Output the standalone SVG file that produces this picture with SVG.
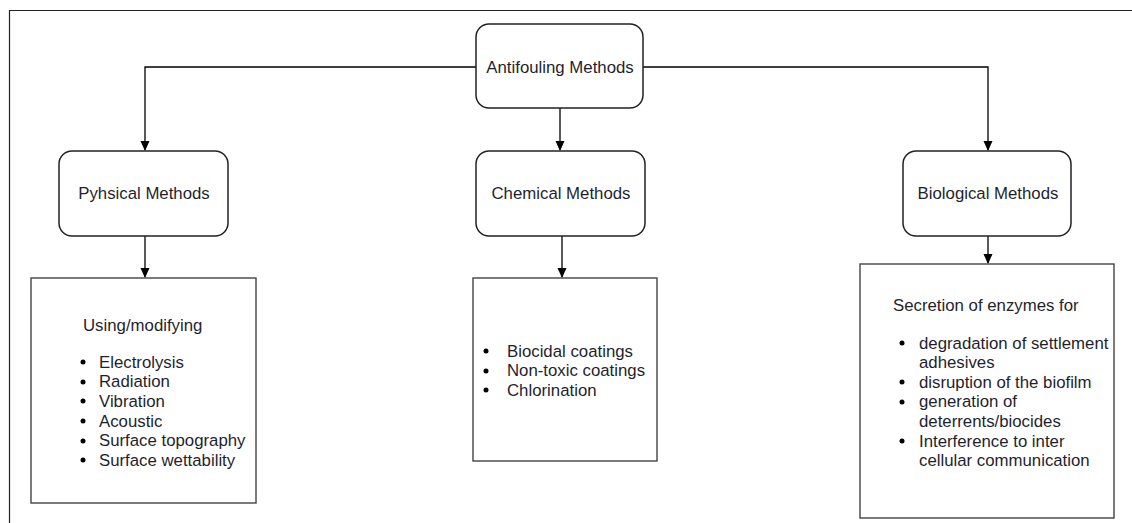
<svg xmlns="http://www.w3.org/2000/svg" width="1132" height="523" viewBox="0 0 1132 523">
<defs>
<style>
text{font-family:"Liberation Sans",Arial,sans-serif;font-size:16.8px;fill:#1f1f2e}
.mid{text-anchor:middle}
.node{fill:#fff;stroke:#222;stroke-width:1.5}
.box{fill:#fff;stroke:#444;stroke-width:1.4}
.conn{fill:none;stroke:#000;stroke-width:1.3}
.dot{fill:#000}
</style>
<marker id="arr" viewBox="0 0 10 10" refX="9" refY="5" markerWidth="10" markerHeight="10" markerUnits="userSpaceOnUse" orient="auto">
<path d="M0,0.5 L10,5 L0,9.5 Z" fill="#000"/>
</marker>
</defs>
<rect width="1132" height="523" fill="#fff"/>
<path d="M9.5,523 V10.5 H1132" fill="none" stroke="#222" stroke-width="1.2"/>
<g id="connectors">
<path class="conn" d="M476,67 H145 V150" marker-end="url(#arr)"/>
<path class="conn" d="M643,67 H988 V150" marker-end="url(#arr)"/>
<path class="conn" d="M560,108 V150" marker-end="url(#arr)"/>
<path class="conn" d="M145,236 V277" marker-end="url(#arr)"/>
<path class="conn" d="M562,236 V277" marker-end="url(#arr)"/>
<path class="conn" d="M988,236 V263" marker-end="url(#arr)"/>
</g>
<g id="root">
<rect class="node" x="476" y="24" width="167" height="84" rx="13"/>
<text class="mid" x="560" y="73">Antifouling Methods</text>
</g>
<g id="physical">
<rect class="node" x="59" y="151" width="169" height="85" rx="13"/>
<text class="mid" x="144" y="199">Pyhsical Methods</text>
</g>
<g id="chemical">
<rect class="node" x="476" y="151" width="169" height="85" rx="13"/>
<text class="mid" x="561" y="199">Chemical Methods</text>
</g>
<g id="biological">
<rect class="node" x="903" y="151" width="168" height="85" rx="13"/>
<text class="mid" x="988" y="199">Biological Methods</text>
</g>
<g id="physical-list">
<rect class="box" x="31" y="278" width="225" height="225"/>
<text x="83" y="331">Using/modifying</text>
<g class="dot">
<circle cx="83" cy="362" r="2.5"/><circle cx="83" cy="382" r="2.5"/><circle cx="83" cy="401" r="2.5"/>
<circle cx="83" cy="421" r="2.5"/><circle cx="83" cy="441" r="2.5"/><circle cx="83" cy="460" r="2.5"/>
</g>
<text x="99" y="367.5">Electrolysis</text>
<text x="99" y="387.2">Radiation</text>
<text x="99" y="406.9">Vibration</text>
<text x="99" y="426.6">Acoustic</text>
<text x="99" y="446.3">Surface topography</text>
<text x="99" y="466">Surface wettability</text>
</g>
<g id="chemical-list">
<rect class="box" x="473" y="278" width="184" height="183"/>
<g class="dot">
<circle cx="486" cy="351" r="2.5"/><circle cx="486" cy="371" r="2.5"/><circle cx="486" cy="390" r="2.5"/>
</g>
<text x="507" y="356.5">Biocidal coatings</text>
<text x="507" y="376.2">Non-toxic coatings</text>
<text x="507" y="395.9">Chlorination</text>
</g>
<g id="biological-list">
<rect class="box" x="860" y="264" width="254" height="254"/>
<text x="893" y="311">Secretion of enzymes for</text>
<g class="dot">
<circle cx="902" cy="343" r="2.5"/><circle cx="902" cy="382" r="2.5"/><circle cx="902" cy="402" r="2.5"/><circle cx="902" cy="441" r="2.5"/>
</g>
<text x="919" y="348.5">degradation of settlement</text>
<text x="919" y="368">adhesives</text>
<text x="919" y="387.7">disruption of the biofilm</text>
<text x="919" y="407.4">generation of</text>
<text x="919" y="427">deterrents/biocides</text>
<text x="919" y="446.7">Interference to inter</text>
<text x="919" y="466.3">cellular communication</text>
</g>
</svg>
